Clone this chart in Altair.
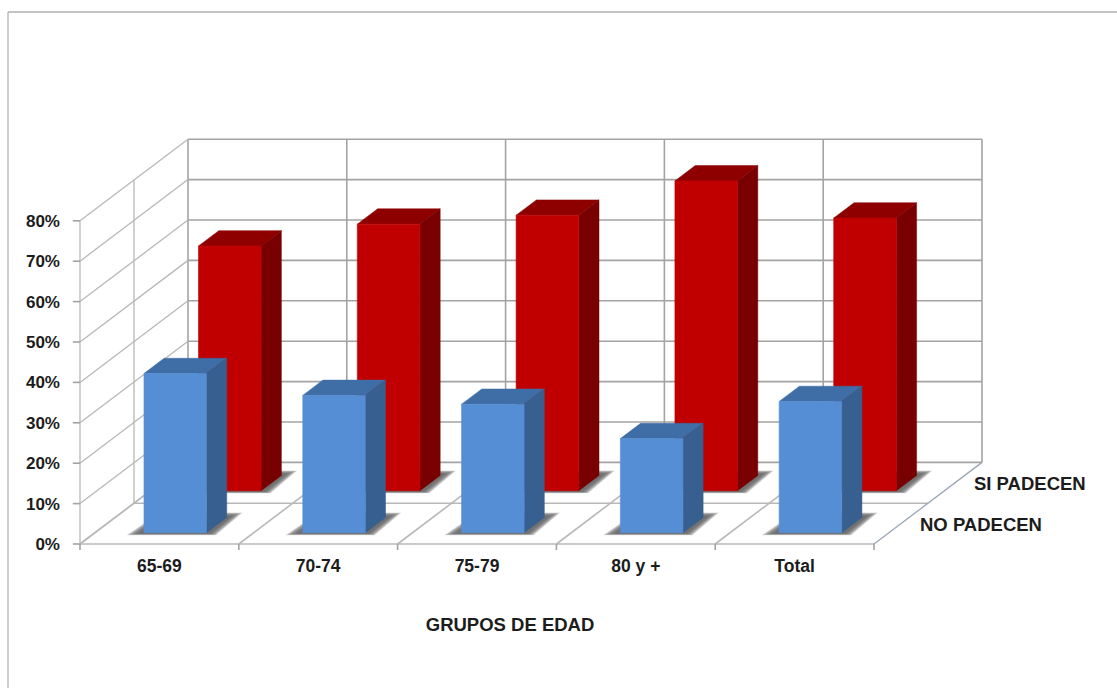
import altair as alt
import pandas as pd

# Survey shares by age group
categories = ["65-69", "70-74", "75-79", "80 y +", "Total"]
no_padecen = [39.4, 34.0, 31.8, 23.3, 32.5]
si_padecen = [60.6, 66.0, 68.2, 76.7, 67.5]
pct_ticks = [0, 10, 20, 30, 40, 50, 60, 70, 80]
series_names = ["NO PADECEN", "SI PADECEN"]
axis_title = "GRUPOS DE EDAD"

# Oblique projection: a unit of depth shifts a point right (in categories) and up (in percent)
SLANT_X = 0.68
SLANT_Y = 20.2
BAR_LEFT = 0.303
BAR_RIGHT = 0.697
SERIES_DEPTH = [(0.138, 0.325), (0.652, 0.84)]

GRID = "#a3a3a3"
FONT = "Liberation Sans"
INK = "#1c1c1c"


def px(cat, d=0.0):
    return cat + SLANT_X * d


def py(pct, d=0.0):
    return pct + SLANT_Y * d


x_scale = alt.Scale(domain=[-80 / 158.8, (1117 - 80) / 158.8], nice=False, zero=False)
y_scale = alt.Scale(domain=[(544 - 688) / 4.04, 544 / 4.04], nice=False, zero=False)
X = alt.X("x:Q", scale=x_scale, axis=None)
Y = alt.Y("y:Q", scale=y_scale, axis=None)
X2 = alt.X2("x2:Q")
Y2 = alt.Y2("y2:Q")


def segments(rows):
    out = []
    for i, (x0, y0, x1, y1) in enumerate(rows):
        out.append({"id": i, "x": x0, "y": y0, "seq": 0})
        out.append({"id": i, "x": x1, "y": y1, "seq": 1})
    return pd.DataFrame(out)


def line_layer(rows, color=GRID, width=1.6):
    return (
        alt.Chart(segments(rows))
        .mark_line(color=color, strokeWidth=width, interpolate="linear")
        .encode(x=X, y=Y, detail="id:N", order="seq:Q")
    )


def outline_rows(sid, corners):
    """Turn a convex outline into upper and lower bounds at each corner's x, for a vertical area."""
    rows = []
    for x in sorted({c[0] for c in corners}):
        hits = []
        for (x0, y0), (x1, y1) in zip(corners, corners[1:] + corners[:1]):
            if min(x0, x1) <= x <= max(x0, x1):
                if x0 == x1:
                    hits += [y0, y1]
                else:
                    hits.append(y0 + (y1 - y0) * (x - x0) / (x1 - x0))
        rows.append({"id": sid, "x": x, "y": max(hits), "y2": min(hits)})
    return rows


cats_edges = range(len(categories) + 1)
n = len(categories)

# Back wall, side wall and floor rules
back_rows = [(px(0, 1), py(p, 1), px(n, 1), py(p, 1)) for p in pct_ticks]
back_rows += [(px(c, 1), py(0, 1), px(c, 1), py(80, 1)) for c in cats_edges]
side_rows = [(px(0, 0), py(p, 0), px(0, 1), py(p, 1)) for p in pct_ticks]
side_rows += [(px(0, 0.5), py(0, 0.5), px(0, 0.5), py(80, 0.5)),
              (px(0, 0), py(0, 0), px(0, 0), py(80, 0))]
floor_rows = [(px(c, 0), py(0, 0), px(c, 1), py(0, 1)) for c in cats_edges[:-1]]
floor_rows += [(px(0, 0.5), py(0, 0.5), px(n, 0.5), py(0, 0.5)),
               (px(0, 0), py(0, 0), px(n, 0), py(0, 0))]
edge_rows = [(px(n, 0), py(0, 0), px(n, 1), py(0, 1))]
tick_rows = [(px(c, 0), py(0), px(c, 0), py(-1.5)) for c in cats_edges]
tick_rows += [(px(-0.045), py(p), px(0), py(p)) for p in pct_ticks]

grid_layers = [
    line_layer(back_rows),
    line_layer(side_rows, "#b8b8b8", 1.3),
    line_layer(floor_rows, "#b8b8b8"),
    line_layer(edge_rows, "#9aa6b6", 1.3),
    line_layer(tick_rows),
]


def bar_layers(values, depth, offset, front, top, side):
    d0, d1 = depth
    shadow, faces_top, faces_side, faces_front = [], [], [], []
    for i, v in enumerate(values):
        left, right = i + BAR_LEFT + offset, i + BAR_RIGHT + offset
        # Soft floor shadow built from nested translucent trapezoids
        for k in range(1, 8):
            f = (k / 7) ** 0.5
            low, high = py(-0.6 * f, d0), py(0, d1 + 0.06 * f)
            shadow += outline_rows(f"{i}-{k}", [
                (px(left - 0.11 * f, d0), low),
                (px(right + 0.06 * f, d0), low),
                (px(right + 0.1 * f, d1), high),
                (px(left - 0.03 * f, d1), high),
            ])
        faces_top.append({"id": i, "y": py(v, d0), "x": px(left, d0), "x2": px(right, d0)})
        faces_top.append({"id": i, "y": py(v, d1), "x": px(left, d1), "x2": px(right, d1)})
        faces_side.append({"id": i, "x": px(right, d0), "y": py(v, d0), "y2": py(0, d0)})
        faces_side.append({"id": i, "x": px(right, d1), "y": py(v, d1), "y2": py(0, d1)})
        faces_front.append({"x": px(left, d0), "x2": px(right, d0), "y": py(v, d0), "y2": py(0, d0)})
    return [
        alt.Chart(pd.DataFrame(shadow))
        .mark_area(orient="vertical", color="#3a3a3a", opacity=0.16)
        .encode(x=X, y=Y, y2=Y2, detail="id:N"),
        alt.Chart(pd.DataFrame(faces_top))
        .mark_area(orient="horizontal", color=top, stroke=top, strokeWidth=0.5)
        .encode(y=Y, x=X, x2=X2, detail="id:N"),
        alt.Chart(pd.DataFrame(faces_side))
        .mark_area(orient="vertical", color=side, stroke=side, strokeWidth=0.5)
        .encode(x=X, y=Y, y2=Y2, detail="id:N"),
        alt.Chart(pd.DataFrame(faces_front))
        .mark_rect(color=front, stroke=front, strokeWidth=0.6)
        .encode(x=X, x2=X2, y=Y, y2=Y2),
    ]


red_layers = bar_layers(si_padecen, SERIES_DEPTH[1], 0.0, "#c00000", "#8e0000", "#780000")
blue_layers = bar_layers(no_padecen, SERIES_DEPTH[0], 0.006, "#558ed5", "#3f6da6", "#375f8f")


def text_layer(rows, align, size=17, dx=0, dy=0):
    return (
        alt.Chart(pd.DataFrame(rows))
        .mark_text(font=FONT, fontWeight="bold", fontSize=size, color=INK,
                   align=align, baseline="middle", dx=dx, dy=dy)
        .encode(x=X, y=Y, text="label:N")
    )


pct_labels = text_layer(
    [{"x": -0.126, "y": py(p), "label": f"{p}%"} for p in pct_ticks], "right", dy=1)
cat_labels = text_layer(
    [{"x": i + 0.5, "y": -5.4, "label": c} for i, c in enumerate(categories)], "center", size=17.5, dy=1)
series_labels = text_layer(
    [{"x": px(n, d), "y": py(0, d), "label": s} for d, s in zip((0.25, 0.75), series_names)],
    "left", size=18.5, dx=19, dy=1.5)
title_label = text_layer([{"x": 2.708, "y": -19.8, "label": axis_title}], "center", size=18.5, dy=1)

# Outer frame of the chart
frame = [
    alt.Chart(pd.DataFrame({"a": [0]})).mark_rule(color="#bdbdbd", strokeWidth=1.5)
    .encode(x=alt.value(8), y=alt.value(12), y2=alt.value(688)),
    alt.Chart(pd.DataFrame({"a": [0]})).mark_rule(color="#b0b0b0", strokeWidth=1.5)
    .encode(x=alt.value(8), x2=alt.value(1117), y=alt.value(12)),
]

chart = (
    alt.layer(*frame, *grid_layers, *red_layers, *blue_layers,
              pct_labels, cat_labels, series_labels, title_label)
    .properties(width=1117, height=688, padding=0, background="white",
                autosize=alt.AutoSizeParams(type="none"))
    .configure_view(stroke=None)
)

chart.save("out.html", embed_options={"renderer": "svg", "actions": False})
